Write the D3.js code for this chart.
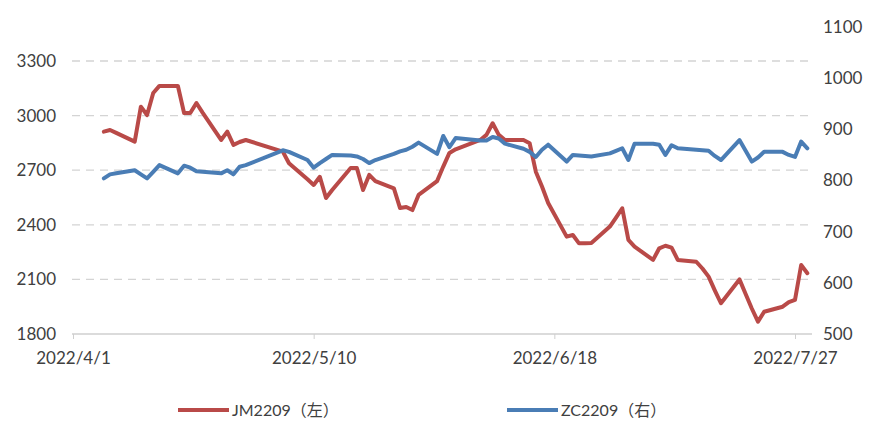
<!DOCTYPE html>
<html><head><meta charset="utf-8">
<script src="https://cdn.jsdelivr.net/npm/d3@7"></script>
<style>
html,body{margin:0;padding:0;background:#fff;}
svg{display:block;}
text{font-family:Lato,"Liberation Sans",sans-serif;fill:#404040;}
</style></head><body>
<svg id="c" width="871" height="423"></svg>
<script>
const dates = ["2022-04-06","2022-04-07","2022-04-08","2022-04-11","2022-04-12","2022-04-13","2022-04-14","2022-04-15","2022-04-18","2022-04-19","2022-04-20","2022-04-21","2022-04-22","2022-04-25","2022-04-26","2022-04-27","2022-04-28","2022-04-29",
"2022-05-05","2022-05-06","2022-05-09","2022-05-10","2022-05-11","2022-05-12","2022-05-13","2022-05-16","2022-05-17","2022-05-18","2022-05-19","2022-05-20","2022-05-23","2022-05-24","2022-05-25","2022-05-26","2022-05-27","2022-05-30","2022-05-31",
"2022-06-01","2022-06-02","2022-06-06","2022-06-07","2022-06-08","2022-06-09","2022-06-10","2022-06-13","2022-06-14","2022-06-15","2022-06-16","2022-06-17","2022-06-20","2022-06-21","2022-06-22","2022-06-23","2022-06-24","2022-06-27","2022-06-28","2022-06-29","2022-06-30",
"2022-07-01","2022-07-04","2022-07-05","2022-07-06","2022-07-07","2022-07-08","2022-07-11","2022-07-12","2022-07-13","2022-07-14","2022-07-15","2022-07-18","2022-07-19","2022-07-20","2022-07-21","2022-07-22","2022-07-25","2022-07-26","2022-07-27","2022-07-28","2022-07-29"];

const jm2209 = [2912,2921,2905,2857,3049,3003,3124,3163,3163,3014,3014,3069,3016,2866,2912,2839,2855,2866,
2802,2738,2650,2619,2664,2547,2591,2712,2712,2591,2674,2640,2600,2492,2498,2481,2564,2640,2720,
2795,2815,2866,2894,2958,2894,2866,2866,2848,2692,2610,2520,2335,2344,2298,2298,2300,2390,2440,2491,2317,
2280,2207,2271,2285,2275,2207,2197,2160,2115,2040,1969,2100,2020,1940,1868,1922,1950,1975,1987,2179,2134];

const zc2209 = [804,812,814,820,812,804,817,830,814,829,825,818,817,814,820,812,827,830,
859,856,840,825,834,842,850,849,847,842,834,840,852,857,860,866,874,852,887,
865,883,878,878,885,882,872,862,856,846,860,870,837,850,849,848,847,853,858,863,840,
872,872,870,850,869,863,860,859,858,848,840,879,858,837,845,856,856,850,846,876,863];

const xTickLabels = ["2022/4/1","2022/5/10","2022/6/18","2022/7/27"];
const leftTicks = [1800,2100,2400,2700,3000,3300];
const rightTicks = [500,600,700,800,900,1000,1100];
const seriesNames = ["JM2209（左）","ZC2209（右）"];
const colors = ["#b94a48","#4a7db5"];

const svg = d3.select("#c");
const parse = d3.timeParse("%Y-%m-%d");
const parseLbl = d3.timeParse("%Y/%m/%d");
const tickDates = xTickLabels.map(parseLbl);

const x = d3.scaleTime().domain([tickDates[0], tickDates[3]]).range([73, 795]);
const yL = d3.scaleLinear().domain([1800, 3300]).range([334, 61]);
const yR = d3.scaleLinear().domain([500, 1100]).range([334, 27]);
const plotLeft = 72, plotRight = 812;

// gridlines
const grid = svg.append("g");
grid.selectAll("line").data(leftTicks.slice(1)).join("line")
  .attr("x1", plotLeft).attr("x2", plotRight)
  .attr("y1", d => yL(d)).attr("y2", d => yL(d))
  .attr("stroke", "#d4d4d4").attr("stroke-width", 1.3).attr("stroke-dasharray", "8,6");

// bottom axis
const xAxis = d3.axisBottom(x).tickValues(tickDates).tickSize(5).tickFormat((d,i) => xTickLabels[i]);
const gx = svg.append("g").attr("transform", "translate(0,334)").call(xAxis);
gx.select(".domain").remove();
gx.append("line").attr("x1", plotLeft).attr("x2", plotRight).attr("y1", 0).attr("y2", 0).attr("stroke", "#cfcfcf").attr("stroke-width", 1.3);
gx.selectAll(".tick line").attr("stroke", "#cfcfcf");
gx.selectAll(".tick text").attr("dy", 0).attr("y", 30).style("font-size", "17px").style("font-family", "Lato").attr("fill", "#404040");

// left axis
const gl = svg.append("g").attr("transform", "translate(56,0)")
  .call(d3.axisLeft(yL).tickValues(leftTicks).tickFormat(d3.format("d")).tickSize(0).tickPadding(0));
gl.select(".domain").remove();
gl.selectAll("text").style("font-size", "17px").style("font-family", "Lato").attr("fill", "#404040");

// right axis
const gr = svg.append("g").attr("transform", "translate(823,0)")
  .call(d3.axisRight(yR).tickValues(rightTicks).tickFormat(d3.format("d")).tickSize(0).tickPadding(0));
gr.select(".domain").remove();
gr.selectAll("text").style("font-size", "17px").style("font-family", "Lato").attr("fill", "#404040");

// lines
const pts = dates.map(parse);
const lineL = d3.line().x((d,i) => x(pts[i])).y(d => yL(d));
const lineR = d3.line().x((d,i) => x(pts[i])).y(d => yR(d));
svg.append("path").datum(jm2209).attr("d", lineL).attr("fill", "none")
  .attr("stroke", colors[0]).attr("stroke-width", 4).attr("stroke-linejoin", "round").attr("stroke-linecap", "round");
svg.append("path").datum(zc2209).attr("d", lineR).attr("fill", "none")
  .attr("stroke", colors[1]).attr("stroke-width", 4).attr("stroke-linejoin", "round").attr("stroke-linecap", "round");

// legend
const legX = [178, 507];
const leg = svg.append("g");
seriesNames.forEach((n, i) => {
  leg.append("line").attr("x1", legX[i]).attr("x2", legX[i] + 51).attr("y1", 410).attr("y2", 410)
    .attr("stroke", colors[i]).attr("stroke-width", 4);
  leg.append("text").attr("x", legX[i] + 54).attr("y", 416).text(n)
    .style("font-size", "16px").style("font-family", "Lato, 'Noto Sans CJK SC'").attr("fill", "#404040");
});
</script>
</body></html>
